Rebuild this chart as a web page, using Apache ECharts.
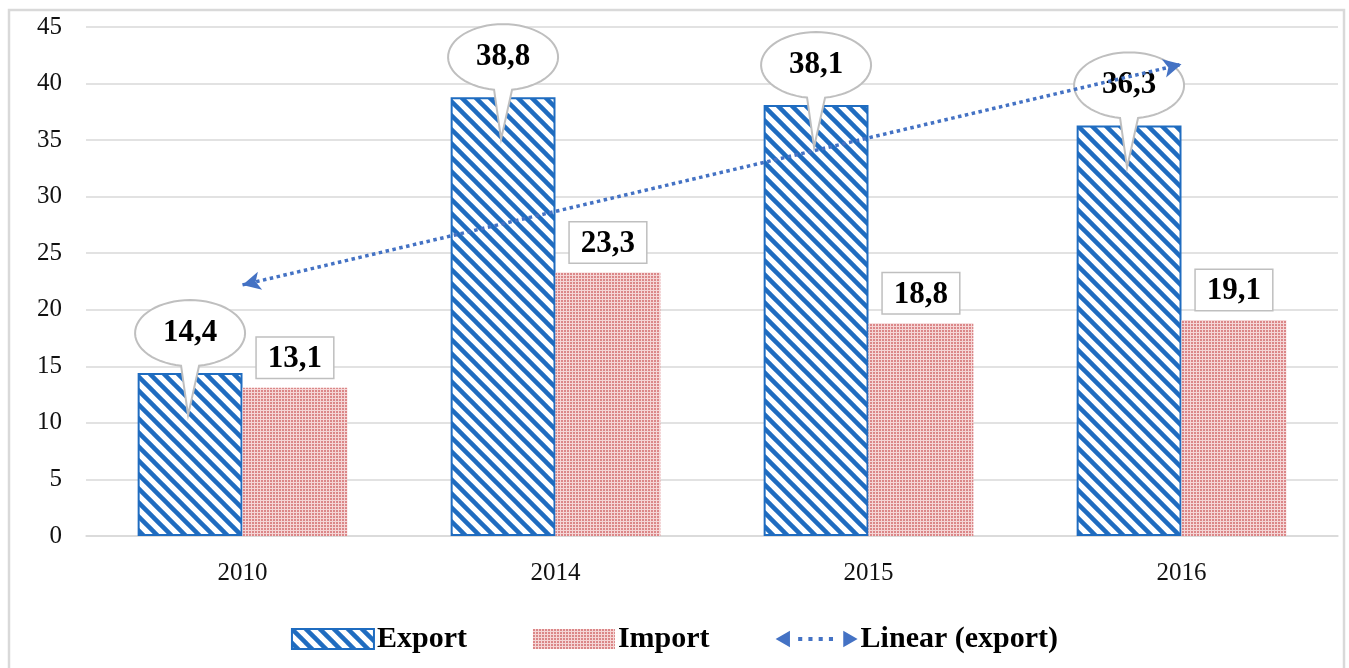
<!DOCTYPE html>
<html>
<head>
<meta charset="utf-8">
<script src="https://cdn.jsdelivr.net/npm/echarts@6/dist/echarts.min.js"></script>
<style>
html, body { margin: 0; padding: 0; background: #fff; }
#chart { width: 1349px; height: 668px; }
</style>
</head>
<body>
<div id="chart"></div>
<script>
// Values
var years = ['2010', '2014', '2015', '2016'];
var exportValues = [14.4, 38.8, 38.1, 36.3];
var importValues = [13.1, 23.3, 18.8, 19.1];
// ends of the linear trend of export (first and last year)
var trendEnds = [22.2, 41.7];

var serif = '"Liberation Serif", "DejaVu Serif", serif';

// blue diagonal stripes for export
function stripePattern() {
  var c = document.createElement('canvas');
  c.width = 14; c.height = 14;
  var ctx = c.getContext('2d');
  ctx.fillStyle = '#ffffff';
  ctx.fillRect(0, 0, 14, 14);
  ctx.strokeStyle = '#1f6cc0';
  ctx.lineWidth = 4.5;
  [-14, 0, 14].forEach(function (x0) {
    ctx.beginPath();
    ctx.moveTo(x0 - 2, -2);
    ctx.lineTo(x0 + 16, 16);
    ctx.stroke();
  });
  return c;
}

// pink dotted fill for import
function dotPattern() {
  var c = document.createElement('canvas');
  c.width = 3; c.height = 3;
  var ctx = c.getContext('2d');
  ctx.fillStyle = '#f5d6d6';
  ctx.fillRect(0, 0, 3, 3);
  ctx.fillStyle = '#db8788';
  ctx.fillRect(0, 0, 2, 2);
  return c;
}

function fmt(v) {
  return v.toFixed(1).replace('.', ',');
}

// callout bubble above each export bar
function renderBubble(params, api) {
  var i = api.value(0);
  var v = api.value(1);
  var top = api.coord([i, v]);
  var band = api.size([1, 0])[0];
  var barW = band * 0.67 / 2;
  var cx = top[0] - barW / 2;
  var cy = top[1] - 40;
  var rx = 55, ry = 33;
  var t1 = Math.acos(9 / rx);
  var t2 = Math.PI - t1;
  var pts = [];
  var n = 60;
  for (var k = 0; k <= n; k++) {
    var t = t2 + (t1 + 2 * Math.PI - t2) * k / n;
    pts.push([cx + rx * Math.cos(t), cy + ry * Math.sin(t)]);
  }
  pts.push([cx - 2, top[1] + 42]);
  return {
    type: 'group',
    children: [
      {
        type: 'polygon',
        shape: { points: pts },
        style: { fill: '#ffffff', stroke: '#bfbfbf', lineWidth: 2 }
      },
      {
        type: 'text',
        style: {
          text: fmt(v), x: cx, y: cy,
          align: 'center', verticalAlign: 'middle',
          font: 'bold 31px ' + serif, fill: '#000'
        }
      }
    ]
  };
}

var chart = echarts.init(document.getElementById('chart'));

chart.setOption({
  animation: false,
  graphic: [{
    type: 'rect',
    shape: { x: 9, y: 10, width: 1335, height: 700 },
    style: { fill: 'none', stroke: '#d9d9d9', lineWidth: 2.5 },
    z: 0
  }],
  grid: { left: 86, right: 11, top: 27, bottom: 132 },
  legend: {
    top: 619,
    left: 'center',
    itemWidth: 82,
    itemHeight: 20,
    itemGap: 66,
    textStyle: { fontFamily: serif, fontSize: 30, fontWeight: 'bold', color: '#000', padding: [0, 0, 0, -2] },
    data: [
      { name: 'Export', icon: 'rect' },
      { name: 'Import', icon: 'rect' },
      { name: 'Linear (export)', icon: 'path://M0 10 L14 2 L14 18 Z M22 8 h4 v4 h-4 Z M32 8 h4 v4 h-4 Z M42 8 h4 v4 h-4 Z M52 8 h4 v4 h-4 Z M66 2 L80 10 L66 18 Z' }
    ]
  },
  xAxis: {
    type: 'category',
    data: years,
    axisLine: { lineStyle: { color: '#d9d9d9', width: 1.5 } },
    axisTick: { show: false },
    axisLabel: { fontFamily: serif, fontSize: 25, color: '#111', margin: 25 }
  },
  yAxis: {
    type: 'value',
    min: 0,
    max: 45,
    interval: 5,
    axisLine: { show: false },
    axisTick: { show: false },
    splitLine: { lineStyle: { color: '#d9d9d9', width: 1.5 } },
    axisLabel: { fontFamily: serif, fontSize: 25, color: '#111', margin: 24 }
  },
  series: [
    {
      name: 'Export',
      type: 'bar',
      data: exportValues,
      barGap: '0%',
      barCategoryGap: '33%',
      itemStyle: {
        color: { image: stripePattern(), repeat: 'repeat' },
        borderColor: '#1f6cc0',
        borderWidth: 2
      },
      z: 2
    },
    {
      name: 'Import',
      type: 'bar',
      data: importValues,
      itemStyle: {
        color: { image: dotPattern(), repeat: 'repeat' }
      },
      label: {
        show: true,
        position: 'top',
        distance: 10,
        formatter: function (p) { return fmt(p.value); },
        fontFamily: serif,
        fontSize: 31,
        fontWeight: 'bold',
        color: '#000',
        backgroundColor: '#fff',
        borderColor: '#bfbfbf',
        borderWidth: 1.5,
        padding: [6, 11, 3, 11]
      },
      z: 2
    },
    {
      name: 'Export labels',
      type: 'custom',
      renderItem: renderBubble,
      data: exportValues.map(function (v, i) { return [i, v]; }),
      z: 3,
      silent: true
    },
    {
      name: 'Linear (export)',
      type: 'line',
      data: [],
      itemStyle: { color: '#4472c4' },
      z: 5,
      markLine: {
        silent: true,
        symbol: ['arrow', 'arrow'],
        symbolSize: [14, 18],
        label: { show: false },
        lineStyle: { type: 'dotted', color: '#4472c4', width: 3.5 },
        data: [[
          { coord: [years[0], trendEnds[0]] },
          { coord: [years[years.length - 1], trendEnds[1]] }
        ]]
      }
    }
  ]
});
</script>
</body>
</html>
